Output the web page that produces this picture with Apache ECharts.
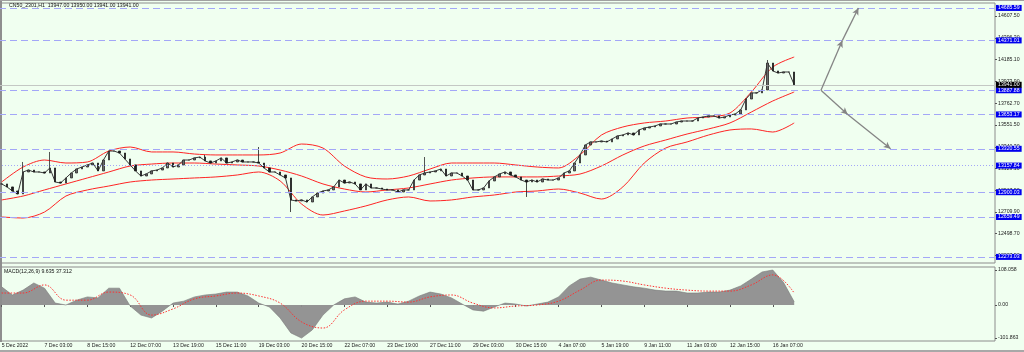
<!DOCTYPE html>
<html>
<head>
<meta charset="utf-8">
<script src="https://cdn.jsdelivr.net/npm/echarts@6/dist/echarts.min.js"></script>
<style>
html, body { margin: 0; padding: 0; background: #f0fff0; }
#chart { width: 1024px; height: 352px; }
</style>
</head>
<body>
<div id="chart"></div>
<script>
// CN50 H1 - velas + bandas de bollinger + macd

const titleText = 'CN50_2301,H1  13947.00 13950.00 13941.00 13941.00'
const macdText = 'MACD(12,26,9) 9.635 37.312'

const timeLabels = ['5 Dec 2022', '7 Dec 03:00', '8 Dec 15:00', '12 Dec 07:00', '13 Dec 19:00',
  '15 Dec 11:00', '19 Dec 03:00', '20 Dec 15:00', '22 Dec 07:00', '23 Dec 19:00', '27 Dec 11:00',
  '29 Dec 03:00', '30 Dec 15:00', '4 Jan 07:00', '5 Jan 19:00', '9 Jan 11:00', '11 Jan 03:00',
  '12 Jan 15:00', '16 Jan 07:00']
const labelEvery = 8
const totalBars = 186

// cierres
const closes = [
  12980, 12951, 12912, 12883, 13096, 13115, 13096, 13096, 13086, 13135,
  12999, 12989, 13038, 13086, 13125, 13144, 13164, 13183, 13106, 13212,
  13299, 13299, 13280, 13222, 13164, 13106, 13057, 13077, 13106, 13115,
  13135, 13183, 13144, 13164, 13212, 13212, 13232, 13241, 13203, 13183,
  13203, 13232, 13183, 13193, 13212, 13193, 13193, 13193, 13183, 13135,
  13096, 13096, 13067, 13038, 12825, 12815, 12825, 12805, 12854, 12892,
  12912, 12922, 12951, 13018, 12989, 12999, 12980, 12922, 12980, 12941,
  12941, 12931, 12922, 12922, 12902, 12922, 12922, 13018, 13067, 13086,
  13096, 13106, 13125, 13057, 13086, 13086, 13057, 13018, 12922, 12922,
  12941, 13009, 13048, 13077, 13096, 13067, 13048, 13018, 12999, 13018,
  12999, 13028, 13018, 13018, 13038, 13086, 13106, 13183, 13261, 13358,
  13387, 13387, 13396, 13387, 13416, 13445, 13455, 13474, 13455, 13503,
  13522, 13532, 13542, 13561, 13561, 13561, 13580, 13590, 13590, 13590,
  13619, 13629, 13639, 13639, 13619, 13629, 13648, 13658, 13697, 13803,
  13862, 13862, 13891, 14152, 14075, 14055, 14065, 14065, 13941
]
// mechas sueltas
const wickIdx = [4, 9, 38, 48, 54, 79, 98, 143]
const wickHigh = [13193, 13290, 13261, 13338, null, 13241, null, 14181]
const wickLow = [null, null, null, null, 12708, null, 12854, null]

// bollinger, un punto cada 4 velas
const bandStep = 4
const bandUpper = [12999, 13144, 13212, 13183, 13193, 13299, 13338, 13290, 13290, 13270,
  13261, 13261, 13261, 13280, 13367, 13328, 13154, 13048, 13028, 13057,
  13125, 13183, 13183, 13183, 13164, 13144, 13135, 13261, 13454, 13532,
  13571, 13590, 13619, 13629, 13667, 13871, 14113, 14210]
const bandMiddle = [12825, 12863, 12922, 12980, 13038, 13096, 13154, 13173, 13183, 13183,
  13173, 13164, 13154, 13115, 13057, 12980, 12931, 12902, 12922, 12941,
  12980, 13018, 13038, 13048, 13048, 13048, 13057, 13076, 13154, 13261,
  13348, 13406, 13464, 13513, 13571, 13677, 13784, 13871]
const bandLower = [12660, 12650, 12708, 12863, 12922, 12960, 12999, 13018, 13028, 13038,
  13048, 13067, 13096, 13009, 12786, 12679, 12718, 12767, 12825, 12854,
  12815, 12825, 12854, 12873, 12902, 12912, 12931, 12892, 12834, 12951,
  13183, 13328, 13387, 13454, 13503, 13513, 13483, 13571]

// macd
const histStep = 2
const macdHist = [56, 31, 46, 68, 52, 6, 0, 15, 25, 22,
  52, 52, -3, -31, -40, -19, 6, 12, 25, 31,
  34, 40, 40, 28, 6, -6, -40, -86, -102, -77,
  -31, 0, 19, 25, 9, 6, 9, 3, 12, 28,
  40, 34, 22, 3, -15, -19, -6, 6, 3, -3,
  3, 9, 25, 59, 80, 86, 77, 68, 62, 56,
  52, 46, 43, 43, 37, 37, 40, 40, 46, 59,
  80, 102, 108, 70, 10]
const signalStep = 4
const macdSignal = [37, 37, 62, 15, 15, 40, 31, -31, -12, 19,
  28, 37, 28, 6, -52, -71, -15, 12, 12, 9,
  25, 31, 6, -9, -3, 0, 12, 46, 77, 74,
  62, 52, 46, 43, 43, 62, 93, 37]

const priceTicks = [14607.5, 14396.3, 14185.1, 13973.9, 13762.7, 13551.5, 13340.3, 13129.1,
  12917.9, 12709.9, 12498.7, 12287.5]
const macdTicks = [108.058, 0, -101.863]
const levels = [14685.59, 14371.01, 13887.88, 13653.17, 13320.55, 12900.03, 12659.49, 12273.03]
const dottedLevel = 13157.84
const bidPrice = 13941.00

// flechas de proyeccion [vela, precio]
const arrowUp = [[153, 13887.88], [157, 14371.01], [160, 14685.59]]
const arrowDown = [[153, 13887.88], [158, 13653.17], [166, 13320.55]]

const FONT = 'Liberation Sans'
const FS = 5.2

const cats = Array.from({ length: totalBars }, (_, i) => String(i))
const showLabel = (i) => i % labelEvery === 0 && i / labelEvery < timeLabels.length

const buildCandles = () => closes.map((c, i) => {
  const o = i === 0 ? c : closes[i - 1]
  let lo = Math.min(o, c)
  let hi = Math.max(o, c)
  const w = wickIdx.indexOf(i)
  if (w >= 0) {
    if (wickHigh[w] != null) hi = wickHigh[w]
    if (wickLow[w] != null) lo = wickLow[w]
  }
  return [o, c, lo, hi]
})

const stepped = (arr, step) => arr.map((v, k) => [k * step, v])

const levelLine = (v, type) => ({
  yAxis: v,
  lineStyle: { color: '#a3a7f7', type: type, width: 1 },
  label: {
    show: true, position: 'end', distance: 1, formatter: v.toFixed(2),
    backgroundColor: '#0000ee', color: '#ffffff', fontSize: FS, fontFamily: FONT,
    padding: [1, 2, 0, 2]
  }
})

const arrowSegs = (pts) => {
  const segs = []
  for (let i = 0; i < pts.length - 1; i++) {
    segs.push([{ coord: pts[i] }, { coord: pts[i + 1] }])
  }
  return segs
}

const getOption = () => {
  const levelData = levels.map(v => levelLine(v, [7, 4]))
  levelData.push(levelLine(dottedLevel, [1, 2]))
  levelData.push({
    yAxis: bidPrice,
    lineStyle: { color: '#c4c8c4', type: 'solid', width: 1 },
    label: {
      show: true, position: 'end', distance: 1, formatter: bidPrice.toFixed(2),
      backgroundColor: '#000000', color: '#ffffff', fontSize: FS, fontFamily: FONT,
      padding: [1, 2, 0, 2]
    }
  })

  return {
    animation: false,
    backgroundColor: '#f0fff0',
    textStyle: { fontFamily: FONT },
    grid: [
      { left: -1, right: 29, top: 3, height: 260, show: true, borderColor: '#8c8c8c', borderWidth: 1, containLabel: false, outerBoundsMode: 'none' },
      { left: -1, right: 29, top: 267, height: 74, show: true, borderColor: '#8c8c8c', borderWidth: 1, containLabel: false, outerBoundsMode: 'none' }
    ],
    xAxis: [
      {
        type: 'category', gridIndex: 0, data: cats, boundaryGap: true,
        axisLine: { show: false }, axisTick: { show: false }, axisLabel: { show: false }, splitLine: { show: false }
      },
      {
        type: 'category', gridIndex: 1, data: cats, boundaryGap: true,
        axisLine: { show: false },
        axisTick: { show: true, alignWithLabel: true, interval: (i) => showLabel(i), length: 2, lineStyle: { color: '#555' } },
        axisLabel: {
          interval: (i) => showLabel(i), align: 'left', margin: 2, fontSize: FS, color: '#222', fontFamily: FONT,
          formatter: (v) => { const i = Number(v); return showLabel(i) ? timeLabels[i / labelEvery] : '' }
        },
        splitLine: { show: false }
      }
    ],
    yAxis: [
      {
        type: 'value', gridIndex: 0, position: 'right', min: 12214, max: 14733.5,
        splitLine: { show: false }, axisLine: { show: false },
        axisTick: { show: true, customValues: priceTicks, length: 2, lineStyle: { color: '#555' } },
        axisLabel: { customValues: priceTicks, formatter: (v) => v.toFixed(2), fontSize: FS, color: '#222', margin: 3, fontFamily: FONT }
      },
      {
        type: 'value', gridIndex: 1, position: 'right', min: -111, max: 117.3,
        splitLine: { show: false }, axisLine: { show: false },
        axisTick: { show: true, customValues: macdTicks, length: 2, lineStyle: { color: '#555' } },
        axisLabel: { customValues: macdTicks, formatter: (v) => v === 0 ? '0.00' : v.toFixed(3), fontSize: FS, color: '#222', margin: 3, fontFamily: FONT }
      }
    ],
    series: [
      {
        name: 'niveles', type: 'line', xAxisIndex: 0, yAxisIndex: 0, data: [], clip: false, z: 1,
        markLine: { silent: true, symbol: ['none', 'none'], animation: false, data: levelData }
      },
      {
        name: 'upper', type: 'line', xAxisIndex: 0, yAxisIndex: 0, data: stepped(bandUpper, bandStep),
        showSymbol: false, smooth: 0.3, lineStyle: { color: '#ff2424', width: 1 }, z: 2
      },
      {
        name: 'middle', type: 'line', xAxisIndex: 0, yAxisIndex: 0, data: stepped(bandMiddle, bandStep),
        showSymbol: false, smooth: 0.3, lineStyle: { color: '#ff2424', width: 1 }, z: 2
      },
      {
        name: 'lower', type: 'line', xAxisIndex: 0, yAxisIndex: 0, data: stepped(bandLower, bandStep),
        showSymbol: false, smooth: 0.3, lineStyle: { color: '#ff2424', width: 1 }, z: 2
      },
      {
        name: 'cierre', type: 'line', xAxisIndex: 0, yAxisIndex: 0, data: closes,
        showSymbol: false, lineStyle: { color: '#3a3a3a', width: 1 }, z: 3
      },
      {
        name: 'CN50', type: 'candlestick', xAxisIndex: 0, yAxisIndex: 0, data: buildCandles(), barWidth: 2, z: 3,
        itemStyle: { color: '#6a6a6a', color0: '#1a1a1a', borderColor: '#2a2a2a', borderColor0: '#1a1a1a', borderWidth: 0.8 }
      },
      {
        name: 'flechas', type: 'line', xAxisIndex: 0, yAxisIndex: 0, data: [], clip: false, z: 4,
        markLine: {
          silent: true, symbol: ['none', 'arrow'], symbolSize: [5, 7], animation: false,
          label: { show: false },
          lineStyle: { color: '#858585', type: 'solid', width: 1.3 },
          data: arrowSegs(arrowUp).concat(arrowSegs(arrowDown))
        }
      },
      {
        name: 'macd', type: 'line', xAxisIndex: 1, yAxisIndex: 1, data: stepped(macdHist, histStep),
        showSymbol: false, lineStyle: { color: '#7a7a7a', width: 0.6 },
        areaStyle: { color: '#8e8e8e', opacity: 0.95 }, z: 2
      },
      {
        name: 'signal', type: 'line', xAxisIndex: 1, yAxisIndex: 1, data: stepped(macdSignal, signalStep),
        showSymbol: false, smooth: 0.4, lineStyle: { color: '#ff3030', width: 1, type: [1.5, 1.5] }, z: 3
      }
    ],
    graphic: [
      { type: 'rect', left: 0, top: 0, shape: { width: 2, height: 342 }, style: { fill: '#8e8e8e' }, silent: true },
      { type: 'rect', left: 0, top: 0, shape: { width: 1024, height: 1 }, style: { fill: '#a0a0a0' }, silent: true },
      { type: 'rect', left: 0, top: 350, shape: { width: 1024, height: 2 }, style: { fill: '#a8a8a8' }, silent: true },
      { type: 'text', left: 9, top: 3, style: { text: titleText, fontSize: FS, fill: '#111', fontFamily: FONT }, silent: true },
      { type: 'text', left: 4, top: 269, style: { text: macdText, fontSize: FS, fill: '#111', fontFamily: FONT }, silent: true }
    ]
  }
}

const iniciarChart = () => {
  const chart = echarts.init(document.getElementById('chart'))
  chart.setOption(getOption())
}

window.addEventListener('load', () => {
  iniciarChart()
})
</script>
</body>
</html>
